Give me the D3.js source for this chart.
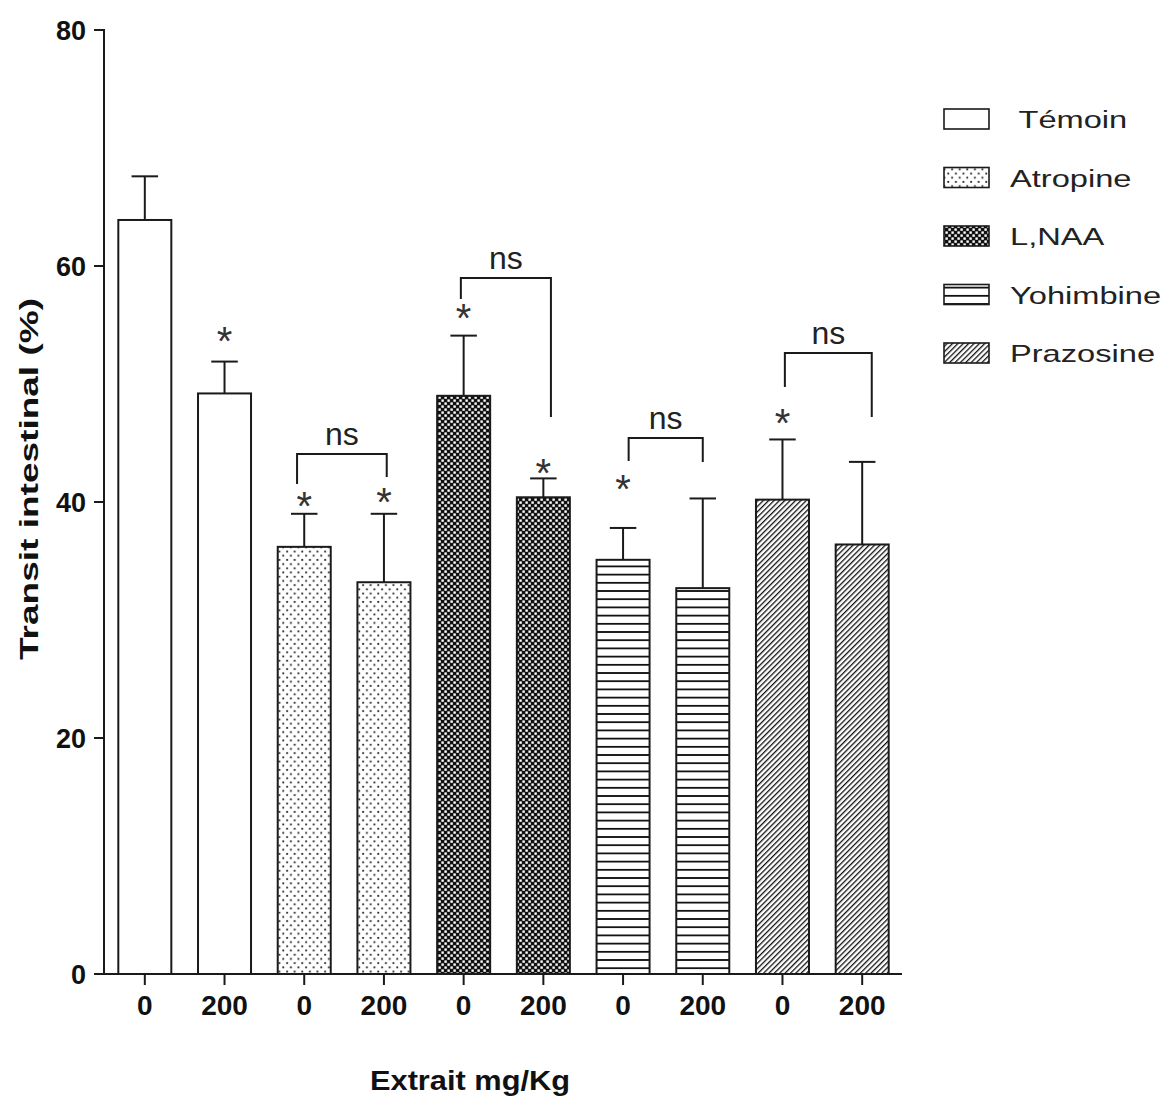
<!DOCTYPE html>
<html>
<head>
<meta charset="utf-8">
<script src="https://cdn.jsdelivr.net/npm/d3@7"></script>
<style>
  html, body { margin: 0; padding: 0; background: #fff; }
  svg { display: block; }
  text { font-family: "Liberation Sans", Arial, sans-serif; }
</style>
</head>
<body>
<svg id="chart" width="1167" height="1115"></svg>
<script>
// ---------------- data ----------------
const groups = ["Témoin", "Atropine", "L,NAA", "Yohimbine", "Prazosine"];
const legendLabels = [" Témoin", "Atropine", "L,NAA", "Yohimbine", "Prazosine"];
const doseLabels = ["0", "200", "0", "200", "0", "200", "0", "200", "0", "200"];
const barGroup = [0, 0, 1, 1, 2, 2, 3, 3, 4, 4];
const means = [63.9, 49.2, 36.2, 33.2, 49.0, 40.4, 35.1, 32.7, 40.2, 36.4];
const sems  = [3.7, 2.7, 2.8, 5.8, 5.1, 1.6, 2.7, 7.6, 5.1, 7.0];
const yTicks = [0, 20, 40, 60, 80];

// significance stars (bar index, level in % units)
const starBars   = [1, 2, 3, 4, 5, 6, 8];
const starLevels = [54.4, 40.4, 40.8, 56.4, 43.2, 41.9, 47.5];

// "ns" brackets (positions in bar-index units, levels in % units)
const bracketFrom    = [1.91, 3.965, 6.07, 8.03];
const bracketTo      = [3.035, 5.095, 7.0, 9.12];
const bracketTop     = [44.07, 58.98, 45.42, 52.63];
const bracketLegFrom = [41.53, 57.2, 43.47, 49.75];
const bracketLegTo   = [42.12, 47.2, 43.39, 47.2];
const bracketLabel   = "ns";

const yTitle = "Transit intestinal (%)";
const xTitle = "Extrait mg/Kg";

// ---------------- drawing ----------------
const svg = d3.select("#chart");
const ink = "#1a1a1a";

const x = d3.scaleBand().domain(d3.range(means.length))
  .range([105, 902]).paddingInner(0.335).paddingOuter(0.167);
const y = d3.scaleLinear().domain([0, 80]).range([974, 30]);
const bw = x.bandwidth();
const cx = i => x(i) + bw / 2;
const xIdx = d3.scaleLinear().domain([0, 9]).range([cx(0), cx(9)]);

// patterns
const defs = svg.append("defs");
// Atropine: sparse dots
const pAtr = defs.append("pattern").attr("id", "pat1").attr("patternUnits", "userSpaceOnUse")
  .attr("width", 7.6).attr("height", 8.4);
pAtr.append("rect").attr("width", 7.6).attr("height", 8.4).attr("fill", "#fff");
pAtr.append("rect").attr("x", 1.2).attr("y", 0.4).attr("width", 1.8).attr("height", 1.8).attr("fill", "#222");
pAtr.append("rect").attr("x", 5.0).attr("y", 4.6).attr("width", 1.8).attr("height", 1.8).attr("fill", "#222");
// L,NAA: checkerboard
const pNaa = defs.append("pattern").attr("id", "pat2").attr("patternUnits", "userSpaceOnUse")
  .attr("width", 6).attr("height", 6);
pNaa.append("rect").attr("width", 6).attr("height", 6).attr("fill", "#111");
pNaa.append("rect").attr("x", 0.4).attr("y", 0.4).attr("width", 2.4).attr("height", 2.4).attr("fill", "#fff");
pNaa.append("rect").attr("x", 3.4).attr("y", 3.4).attr("width", 2.4).attr("height", 2.4).attr("fill", "#fff");
// Yohimbine: horizontal lines
const pYoh = defs.append("pattern").attr("id", "pat3").attr("patternUnits", "userSpaceOnUse")
  .attr("y", 565.5).attr("width", 10).attr("height", 8.2);
pYoh.append("rect").attr("width", 10).attr("height", 8.2).attr("fill", "#fff");
pYoh.append("rect").attr("y", 0).attr("width", 10).attr("height", 1.8).attr("fill", "#111");
// Prazosine: diagonal lines
const pPra = defs.append("pattern").attr("id", "pat4").attr("patternUnits", "userSpaceOnUse")
  .attr("width", 3.8).attr("height", 10).attr("patternTransform", "rotate(45)");
pPra.append("rect").attr("width", 3.8).attr("height", 10).attr("fill", "#fff");
pPra.append("rect").attr("x", 0).attr("width", 1.3).attr("height", 10).attr("fill", "#111");

const fills = ["#fff", "url(#pat1)", "url(#pat2)", "url(#pat3)", "url(#pat4)"];

// error bars (upper only)
const eb = svg.append("g").attr("stroke", ink).attr("stroke-width", 2);
means.forEach((m, i) => {
  eb.append("line").attr("x1", cx(i)).attr("x2", cx(i)).attr("y1", y(m)).attr("y2", y(m + sems[i]));
  eb.append("line").attr("x1", cx(i) - bw / 4).attr("x2", cx(i) + bw / 4)
    .attr("y1", y(m + sems[i])).attr("y2", y(m + sems[i]));
});

// bars
svg.append("g").selectAll("rect").data(means).join("rect")
  .attr("x", (d, i) => x(i)).attr("width", bw)
  .attr("y", d => y(d)).attr("height", d => y(0) - y(d))
  .attr("fill", (d, i) => fills[barGroup[i]])
  .attr("stroke", ink).attr("stroke-width", 2);

// axes
const axG = svg.append("g").attr("stroke", ink).attr("stroke-width", 2).attr("fill", "none");
axG.append("line").attr("x1", 104).attr("x2", 104).attr("y1", y(80) - 1).attr("y2", y(0));
axG.append("line").attr("x1", 94).attr("x2", 902).attr("y1", y(0)).attr("y2", y(0));
yTicks.forEach(t => {
  axG.append("line").attr("x1", 94).attr("x2", 104).attr("y1", y(t)).attr("y2", y(t));
});
means.forEach((m, i) => {
  axG.append("line").attr("x1", cx(i)).attr("x2", cx(i)).attr("y1", y(0)).attr("y2", y(0) + 11);
});

svg.append("g").selectAll("text").data(yTicks).join("text")
  .attr("x", 86).attr("y", d => y(d)).attr("dy", "0.36em")
  .attr("text-anchor", "end").attr("font-size", 27).attr("font-weight", "bold").attr("fill", "#111")
  .text(d => d);

svg.append("g").selectAll("text").data(doseLabels).join("text")
  .attr("x", (d, i) => cx(i)).attr("y", 1015)
  .attr("text-anchor", "middle").attr("font-size", 28).attr("font-weight", "bold").attr("fill", "#111")
  .text(d => d);

// titles
svg.append("text").attr("transform", "translate(38,479) rotate(-90)")
  .attr("text-anchor", "middle").attr("font-size", 26).attr("font-weight", "bold").attr("fill", "#111")
  .attr("textLength", 362).attr("lengthAdjust", "spacingAndGlyphs")
  .text(yTitle);
svg.append("text").attr("x", 470).attr("y", 1090)
  .attr("text-anchor", "middle").attr("font-size", 27).attr("font-weight", "bold").attr("fill", "#111")
  .attr("textLength", 200).attr("lengthAdjust", "spacingAndGlyphs")
  .text(xTitle);

// stars
svg.append("g").selectAll("text").data(starBars).join("text")
  .attr("x", d => cx(d)).attr("y", (d, i) => y(starLevels[i]))
  .attr("dy", "0.58em").attr("text-anchor", "middle")
  .attr("font-size", 40).attr("fill", "#333")
  .text("*");

// ns brackets
const br = svg.append("g");
bracketFrom.forEach((f, k) => {
  const xa = xIdx(f), xb = xIdx(bracketTo[k]);
  br.append("path")
    .attr("d", `M${xa},${y(bracketLegFrom[k])}V${y(bracketTop[k])}H${xb}V${y(bracketLegTo[k])}`)
    .attr("fill", "none").attr("stroke", ink).attr("stroke-width", 2);
  br.append("text").attr("x", (xa + xb) / 2).attr("y", y(bracketTop[k]) - 9)
    .attr("text-anchor", "middle").attr("font-size", 32).attr("fill", "#222")
    .text(bracketLabel);
});

// legend
const legRowY = d3.scaleLinear().domain([0, 4]).range([119, 353]);
const leg = svg.append("g");
groups.forEach((g, k) => {
  const yy = legRowY(k);
  leg.append("rect").attr("x", 944).attr("y", yy - 10).attr("width", 45).attr("height", 20)
    .attr("fill", fills[k]).attr("stroke", ink).attr("stroke-width", 1.6);
  leg.append("text").attr("transform", `translate(1010,${yy + 9}) scale(1.36,1)`)
    .attr("font-size", 24).attr("fill", "#222").attr("xml:space", "preserve")
    .style("white-space", "pre")
    .text(legendLabels[k]);
});
</script>
</body>
</html>
